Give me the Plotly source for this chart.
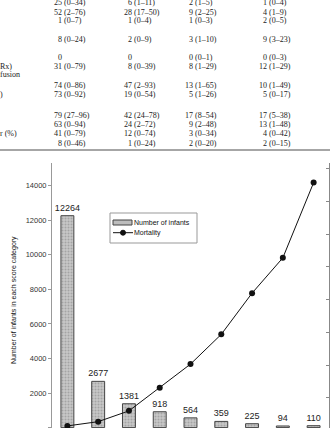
import plotly.graph_objects as go

# ---- data ----
score_categories = [0, 1, 2, 3, 4, 5, 6, 7, 8]
infants = [12264, 2677, 1381, 918, 564, 359, 225, 94, 110]
mortality = [1.4, 2.7, 6.0, 13.1, 20.3, 29.4, 42.0, 52.8, 75.8]
left_ticks = [0, 2000, 4000, 6000, 8000, 10000, 12000, 14000]
right_ticks = [0, 10, 20, 30, 40, 50, 60, 70, 80]

table_col1 = [("25", "(0–34)"), ("52", "(2–76)"), ("1", "(0–7)"), ("8", "(0–24)"), ("0", ""),
              ("31", "(0–79)"), ("74", "(0–86)"), ("73", "(0–92)"), ("79", "(27–96)"),
              ("63", "(0–94)"), ("41", "(0–79)"), ("8", "(0–46)")]
table_col2 = [("6", "(1–11)"), ("28", "(17–50)"), ("1", "(0–4)"), ("2", "(0–9)"), ("0", ""),
              ("8", "(0–39)"), ("47", "(2–93)"), ("19", "(0–54)"), ("42", "(24–78)"),
              ("24", "(2–72)"), ("12", "(0–74)"), ("1", "(0–24)")]
table_col3 = [("2", "(1–5)"), ("9", "(2–25)"), ("1", "(0–3)"), ("3", "(1–10)"), ("0", "(0–1)"),
              ("8", "(1–29)"), ("13", "(1–65)"), ("5", "(1–26)"), ("17", "(8–54)"),
              ("9", "(2–48)"), ("3", "(0–34)"), ("2", "(0–20)")]
table_col4 = [("1", "(0–4)"), ("4", "(1–9)"), ("2", "(0–5)"), ("9", "(3–23)"), ("0", "(0–3)"),
              ("12", "(1–29)"), ("10", "(1–49)"), ("5", "(0–17)"), ("17", "(5–38)"),
              ("13", "(1–48)"), ("4", "(0–42)"), ("2", "(0–15)")]
row_fragments = [("Rx)", 5), ("fusion", None), (")", 7), ("r (%)", 10)]
legend_labels = ["Number of infants", "Mortality"]
y_title = "Number of infants in each score category"

# ---- layout geometry (pixels) ----
W, H = 330, 428
L, R, T, B = 52, 1, 163, 0
PW, PH = W - L - R, H - T - B


def px(x):
    return (x - L) / PW


def py(y):
    return (H - B - y) / PH


fig = go.Figure()
fig.add_trace(go.Bar(
    x=score_categories, y=infants, width=0.42,
    marker=dict(color="#c4c4c4", line=dict(color="#444", width=1),
                pattern=dict(shape=".", fgcolor="#808080", bgcolor="#c8c8c8", size=3, solidity=0.35)),
    text=[str(v) for v in infants], textposition="outside", constraintext="none",
    textfont=dict(family="Liberation Sans", size=9, color="#222"),
    cliponaxis=False, showlegend=False, yaxis="y"))
fig.add_trace(go.Scatter(
    x=score_categories, y=mortality, mode="lines+markers",
    line=dict(color="#111", width=1), marker=dict(color="#111", size=6),
    showlegend=False, yaxis="y2", cliponaxis=False))

fig.update_layout(
    width=W, height=H, margin=dict(l=L, r=R, t=T, b=B),
    paper_bgcolor="white", plot_bgcolor="white",
    xaxis=dict(range=[-0.5, 8.5], showticklabels=False, showline=False, showgrid=False,
               zeroline=False, ticks=""),
    yaxis=dict(range=[-23, 15313], tickvals=left_ticks, tickformat="d", showgrid=False,
               zeroline=False, showline=True, linecolor="#999", linewidth=1, ticks="outside",
               ticklen=3, tickcolor="#999",
               tickfont=dict(family="Liberation Sans", size=7.5, color="#333")),
    yaxis2=dict(range=[0.76, 81.8], overlaying="y", side="right", tickvals=right_ticks,
                showticklabels=False, showgrid=False, zeroline=False, showline=True,
                linecolor="#888", linewidth=1, ticks="inside", ticklen=3, tickcolor="#888"),
)

annotations = []
shapes = []


def ann(text, x, y, xanchor, font, **kw):
    d = dict(text=text, xref="paper", yref="paper", x=px(x), y=py(y), showarrow=False,
             xanchor=xanchor, yanchor="middle", font=font, borderpad=0, borderwidth=0)
    d.update(kw)
    annotations.append(d)


sans7 = dict(family="Liberation Sans", size=7, color="#111")

# y-axis title
ann(y_title, 14, 300, "center", sans7, textangle=-90)

# legend (manual)
shapes.append(dict(type="rect", xref="paper", yref="paper", x0=px(110), x1=px(197),
                   y0=py(243), y1=py(213), line=dict(color="#999", width=1), fillcolor="white"))
shapes.append(dict(type="rect", xref="paper", yref="paper", x0=px(113), x1=px(132),
                   y0=py(225), y1=py(220), line=dict(color="#444", width=1), fillcolor="#bdbdbd"))
shapes.append(dict(type="line", xref="paper", yref="paper", x0=px(113), x1=px(133),
                   y0=py(232.7), y1=py(232.7), line=dict(color="#111", width=1)))
shapes.append(dict(type="circle", xref="paper", yref="paper", x0=px(120.5), x1=px(125.5),
                   y0=py(235.2), y1=py(230.2), line=dict(color="#111", width=1), fillcolor="#111"))
for lab, yy in zip(legend_labels, [222.5, 232.7]):
    ann(lab, 134, yy, "left", sans7)

# table fragment at top
row_y = [2.7, 12.3, 20.7, 39, 57.3, 66, 85.7, 94.3, 115, 124.3, 133.7, 143]
col_right = [61.5, 131.5, 192.8, 267]
serif = dict(family="Liberation Serif", size=8, color="#222")
for col, xr in zip([table_col1, table_col2, table_col3, table_col4], col_right):
    for (num, rng), yy in zip(col, row_y):
        ann(num, xr, yy, "right", serif)
        if rng:
            ann(rng, xr + 2, yy, "left", serif)
for txt, ri in row_fragments:
    yy = row_y[ri] if ri is not None else 74.5
    ann(txt, 0, yy, "left", serif)
shapes.append(dict(type="line", xref="paper", yref="paper", x0=px(0), x1=px(330),
                   y0=py(150), y1=py(150), line=dict(color="#888", width=1.5)))

fig.update_layout(annotations=annotations, shapes=shapes)
fig.write_html("out.html")
